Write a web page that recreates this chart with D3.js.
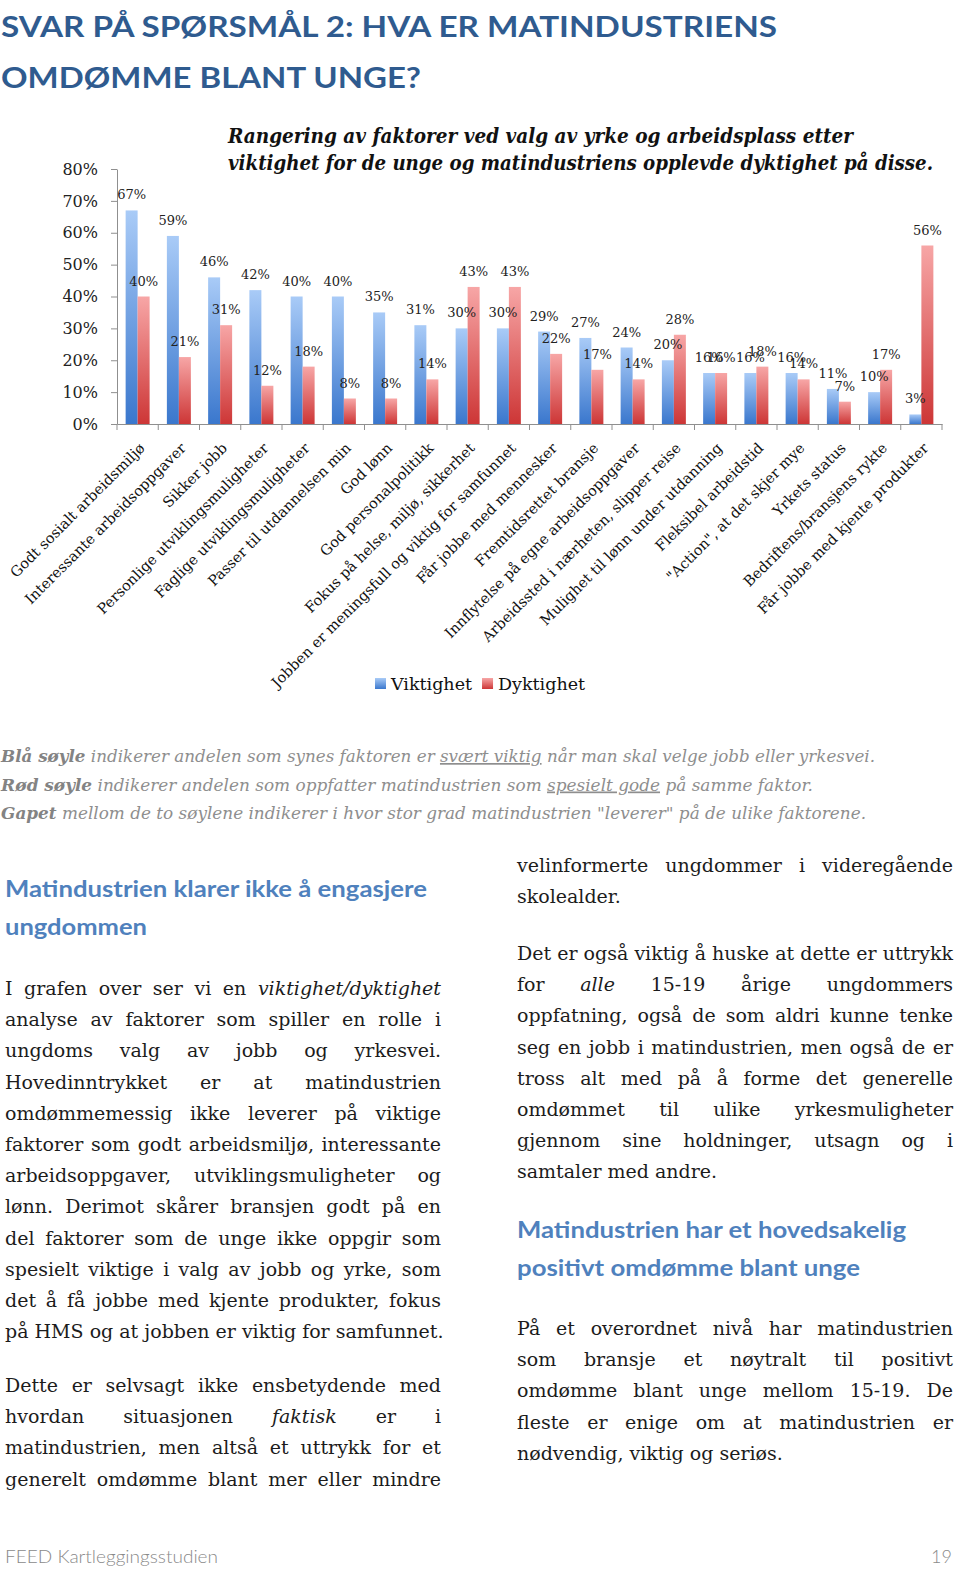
<!DOCTYPE html>
<html>
<head>
<meta charset="utf-8">
<script src="https://cdn.jsdelivr.net/npm/d3@7"></script>
<style>
  body { margin: 0; background: #fff; }
  svg text { font-family: "DejaVu Serif", serif; white-space: pre; }
</style>
</head>
<body>
<div id="page"></div>
<script>
// data

const categories = [
  "Godt sosialt arbeidsmiljø",
  "Interessante arbeidsoppgaver",
  "Sikker jobb",
  "Personlige utviklingsmuligheter",
  "Faglige utviklingsmuligheter",
  "Passer til utdannelsen min",
  "God lønn",
  "God personalpolitikk",
  "Fokus på helse, miljø, sikkerhet",
  "Jobben er meningsfull og viktig for samfunnet",
  "Får jobbe med mennesker",
  "Fremtidsrettet bransje",
  "Innflytelse på egne arbeidsoppgaver",
  "Arbeidssted i nærheten, slipper reise",
  "Mulighet til lønn under utdanning",
  "Fleksibel arbeidstid",
  "\"Action\", at det skjer mye",
  "Yrkets status",
  "Bedriftens/bransjens rykte",
  "Får jobbe med kjente produkter"
];
const viktighet = [67, 59, 46, 42, 40, 40, 35, 31, 30, 30, 29, 27, 24, 20, 16, 16, 16, 11, 10, 3];
const dyktighet = [40, 21, 31, 12, 18, 8, 8, 14, 43, 43, 22, 17, 14, 28, 16, 18, 14, 7, 17, 56];
const seriesNames = ["Viktighet", "Dyktighet"];
const yTicks = [0, 10, 20, 30, 40, 50, 60, 70, 80];

const titleLines = ["SVAR PÅ SPØRSMÅL 2: HVA ER MATINDUSTRIENS", "OMDØMME BLANT UNGE?"];
const chartTitleLines = [
  "Rangering av faktorer ved valg av yrke og arbeidsplass etter",
  "viktighet for de unge og matindustriens opplevde dyktighet på disse."
];
const captions = [
  [["Blå søyle", "b"], [" indikerer andelen som synes faktoren er ", ""], ["svært viktig", "u"], [" når man skal velge jobb eller yrkesvei.", ""]],
  [["Rød søyle", "b"], [" indikerer andelen som oppfatter matindustrien som ", ""], ["spesielt gode", "u"], [" på samme faktor.", ""]],
  [["Gapet", "b"], [" mellom de to søylene indikerer i hvor stor grad matindustrien \"leverer\" på de ulike faktorene.", ""]]
];

// body text, one entry per printed line; *word* = italic, trailing "|" = last line of paragraph
const leftLines = [
  "I grafen over ser vi en *viktighet/dyktighet*",
  "analyse av faktorer som spiller en rolle i",
  "ungdoms valg av jobb og yrkesvei.",
  "Hovedinntrykket er at matindustrien",
  "omdømmemessig ikke leverer på viktige",
  "faktorer som godt arbeidsmiljø, interessante",
  "arbeidsoppgaver, utviklingsmuligheter og",
  "lønn. Derimot skårer bransjen godt på en",
  "del faktorer som de unge ikke oppgir som",
  "spesielt viktige i valg av jobb og yrke, som",
  "det å få jobbe med kjente produkter, fokus",
  "på HMS og at jobben er viktig for samfunnet.|"
];
const leftLines2 = [
  "Dette er selvsagt ikke ensbetydende med",
  "hvordan situasjonen *faktisk* er i",
  "matindustrien, men altså et uttrykk for et",
  "generelt omdømme blant mer eller mindre"
];
const rightLines1 = [
  "velinformerte ungdommer i videregående",
  "skolealder.|"
];
const rightLines2 = [
  "Det er også viktig å huske at dette er uttrykk",
  "for *alle* 15-19 årige ungdommers",
  "oppfatning, også de som aldri kunne tenke",
  "seg en jobb i matindustrien, men også de er",
  "tross alt med på å forme det generelle",
  "omdømmet til ulike yrkesmuligheter",
  "gjennom sine holdninger, utsagn og i",
  "samtaler med andre.|"
];
const rightLines3 = [
  "På et overordnet nivå har matindustrien",
  "som bransje et nøytralt til positivt",
  "omdømme blant unge mellom 15-19. De",
  "fleste er enige om at matindustrien er",
  "nødvendig, viktig og seriøs.|"
];

// constants

const width = 960;
const height = 1573;
const seriesColors = [["#a9cbf7", "#3a77cd"], ["#f7a6a6", "#cd3636"]];
const titleColor = "#2f5b8f";
const headColor = "#4f81bd";

const svg = d3.select("#page").append("svg")
  .attr("width", width).attr("height", height);

// gradients for the bars
const defs = svg.append("defs");
seriesColors.forEach((c, i) => {
  const g = defs.append("linearGradient").attr("id", "grad" + i)
    .attr("x1", 0).attr("y1", 0).attr("x2", 0).attr("y2", 1);
  g.append("stop").attr("offset", "0%").attr("stop-color", c[0]);
  g.append("stop").attr("offset", "100%").attr("stop-color", c[1]);
});

// page title
svg.append("g").selectAll("text").data(titleLines).join("text")
  .attr("x", 1)
  .attr("y", (d, i) => 37 + i * 51)
  .attr("textLength", (d, i) => [776, 420][i])
  .attr("lengthAdjust", "spacingAndGlyphs")
  .style("font-family", "Lato, 'Open Sans', sans-serif")
  .style("font-weight", 700)
  .style("font-size", "29px")
  .attr("fill", titleColor)
  .text(d => d);

// chart title
svg.append("g").selectAll("text").data(chartTitleLines).join("text")
  .attr("x", 228)
  .attr("y", (d, i) => 143 + i * 27)
  .attr("textLength", (d, i) => [625, 705][i])
  .attr("lengthAdjust", "spacingAndGlyphs")
  .style("font-weight", 700)
  .style("font-style", "italic")
  .style("font-size", "20px")
  .attr("fill", "#111")
  .text(d => d);

// Set Scales
const x0 = d3.scaleBand()
  .domain(categories)
  .range([117, 942]);
const x1 = d3.scaleBand()
  .domain(seriesNames)
  .range([0, x0.bandwidth()])
  .paddingOuter(0.72);
const y = d3.scaleLinear()
  .domain([0, 80])
  .range([424, 169]);

// y axis
const yAxis = d3.axisLeft(y)
  .tickValues(yTicks)
  .tickFormat(d => d + "%")
  .tickSize(6)
  .tickSizeOuter(0)
  .tickPadding(13);
const yG = svg.append("g")
  .attr("transform", "translate(117,0)")
  .call(yAxis);
yG.select(".domain").attr("stroke", "#8f8f8f");
yG.selectAll(".tick line").attr("stroke", "#8f8f8f");
yG.selectAll(".tick text")
  .attr("font-family", "DejaVu Serif, serif")
  .attr("font-size", 16)
  .attr("fill", "#222");

// bars
const rows = categories.map((c, i) => ({ c, vals: [viktighet[i], dyktighet[i]] }));
const groups = svg.append("g").selectAll("g").data(rows).join("g")
  .attr("transform", d => `translate(${x0(d.c)},0)`);
groups.selectAll("rect")
  .data(d => d.vals.map((v, j) => ({ s: seriesNames[j], v, j })))
  .join("rect")
  .attr("x", d => x1(d.s))
  .attr("width", x1.bandwidth())
  .attr("y", d => y(d.v))
  .attr("height", d => y(0) - y(d.v))
  .attr("fill", d => `url(#grad${d.j})`);

// x axis with rotated labels
const xAxis = d3.axisBottom(x0).tickSize(0).tickSizeOuter(0);
const xG = svg.append("g")
  .attr("transform", `translate(0,${y(0)})`)
  .call(xAxis);
xG.select(".domain").attr("stroke", "#8f8f8f");
xG.selectAll(".tick text")
  .attr("x", 0).attr("y", 0).attr("dy", 0)
  .attr("text-anchor", "end")
  .attr("transform", "translate(8,25) rotate(-45)")
  .attr("font-family", "DejaVu Serif, serif")
  .attr("font-size", 14.5)
  .attr("fill", "#111");
// tick marks between the categories
svg.append("g").selectAll("line")
  .data(categories.map(c => x0(c)).concat([x0.range()[1]]))
  .join("line")
  .attr("x1", d => d).attr("x2", d => d)
  .attr("y1", y(0)).attr("y2", y(0) + 6)
  .attr("stroke", "#8f8f8f");

// value labels, on top of all bars
const labelG = svg.append("g");
rows.forEach(r => {
  r.vals.forEach((v, j) => {
    labelG.append("text")
      .attr("x", x0(r.c) + x1(seriesNames[j]) + x1.bandwidth() / 2)
      .attr("y", y(v) - 11)
      .attr("text-anchor", "middle")
      .attr("font-size", 13)
      .attr("fill", "#222")
      .text(v + "%");
  });
});

// legend
const legend = svg.append("g").attr("transform", "translate(375,690)");
let lx = 0;
seriesNames.forEach((s, i) => {
  legend.append("rect").attr("x", lx).attr("y", -12).attr("width", 11).attr("height", 11)
    .attr("fill", `url(#grad${i})`);
  const t = legend.append("text").attr("x", lx + 16).attr("y", 0)
    .attr("font-size", 17.5).attr("fill", "#111").text(s);
  lx += 16 + t.node().getComputedTextLength() + 10;
});

// captions under the chart
const capG = svg.append("g");
captions.forEach((segs, i) => {
  const t = capG.append("text")
    .attr("x", 1)
    .attr("y", 762 + i * 28.5)
    .attr("textLength", [874, 812, 865][i])
    .attr("lengthAdjust", "spacingAndGlyphs")
    .attr("font-size", 17)
    .style("font-style", "italic")
    .attr("fill", "#8e8e8e");
  segs.forEach(s => {
    const ts = t.append("tspan").text(s[0]);
    if (s[1] === "b") ts.style("font-weight", 700).attr("fill", "#838383");
    if (s[1] === "u") ts.style("text-decoration", "underline");
  });
});

// justified body text
const bodySize = 19;
const tmp = svg.append("text").attr("font-size", bodySize).attr("x", -1000).attr("y", -1000);
function measure(str, italic) {
  tmp.style("font-style", italic ? "italic" : "normal").text(str);
  return tmp.node().getComputedTextLength();
}
const spaceW = measure("a a") - measure("aa");

function writeLines(lines, xLeft, xRight, y0) {
  const g = svg.append("g");
  lines.forEach((line, i) => {
    const last = line.endsWith("|");
    const words = line.replace("|", "").split(" ").map(w =>
      w.startsWith("*") ? { t: w.replace(/\*/g, ""), it: true } : { t: w, it: false });
    const widths = words.map(w => measure(w.t, w.it));
    const total = d3.sum(widths);
    let gap = spaceW;
    if (!last && words.length > 1) gap = (xRight - xLeft - total) / (words.length - 1);
    let x = xLeft;
    words.forEach((w, k) => {
      g.append("text")
        .attr("x", x)
        .attr("y", y0 + i * 31.2)
        .attr("font-size", bodySize)
        .style("font-style", w.it ? "italic" : "normal")
        .attr("fill", "#1c1c1c")
        .text(w.t);
      x += widths[k] + gap;
    });
  });
}

function heading(lines, x, y0, lens) {
  svg.append("g").selectAll("text").data(lines).join("text")
    .attr("x", x)
    .attr("y", (d, i) => y0 + i * 37.5)
    .attr("textLength", (d, i) => lens[i])
    .attr("lengthAdjust", "spacingAndGlyphs")
    .style("font-family", "Lato, 'Open Sans', sans-serif")
    .style("font-weight", 700)
    .style("font-size", "23px")
    .attr("fill", headColor)
    .text(d => d);
}

heading(["Matindustrien klarer ikke å engasjere", "ungdommen"], 5, 897, [422, 142]);
writeLines(leftLines, 5, 441, 995);
writeLines(leftLines2, 5, 441, 1392);

writeLines(rightLines1, 517, 953, 872);
writeLines(rightLines2, 517, 953, 960);
heading(["Matindustrien har et hovedsakelig", "positivt omdømme blant unge"], 517, 1238, [389, 343]);
writeLines(rightLines3, 517, 953, 1335);

// footer
svg.append("text")
  .attr("x", 5).attr("y", 1563)
  .attr("textLength", 213).attr("lengthAdjust", "spacingAndGlyphs")
  .style("font-family", "Lato, 'Open Sans', sans-serif")
  .style("font-weight", 300)
  .style("font-size", "18px")
  .attr("fill", "#8a8a8a")
  .text("FEED Kartleggingsstudien");
svg.append("text")
  .attr("x", 952).attr("y", 1563)
  .attr("text-anchor", "end")
  .style("font-family", "Lato, 'Open Sans', sans-serif")
  .style("font-weight", 300)
  .style("font-size", "18px")
  .attr("fill", "#8a8a8a")
  .text("19");
tmp.remove();
</script>
</body>
</html>
